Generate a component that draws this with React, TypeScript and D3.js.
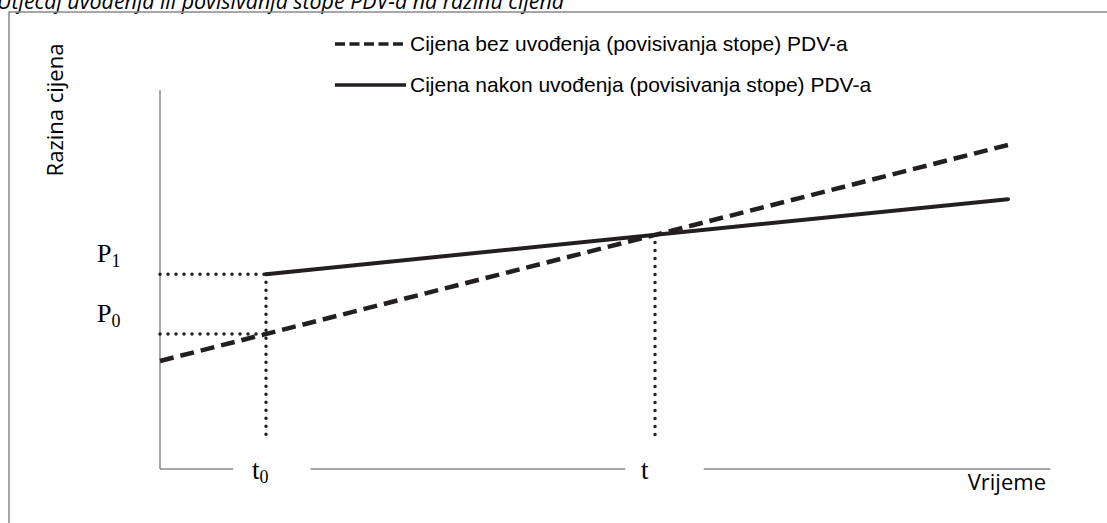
import React from 'react';
import * as d3 from 'd3';

// Price level over time (abstract units)
const priceWithoutVat = [
  { t: 0, p: 2.85 },
  { t: 8, p: 8.55 },
];
const priceWithVat = [
  { t: 1, p: 5.14 },
  { t: 8, p: 7.12 },
];
const priceLabels = [
  { name: 'P', sub: '1', p: 5.14 },
  { name: 'P', sub: '0', p: 3.56 },
];
const timeLabels = [
  { name: 't', sub: '0', t: 1, top: 5.14 },
  { name: 't', sub: '', t: 4.67, top: 6.19 },
];
// x axis is drawn in pieces, leaving room for the time labels
const axisPieces = [
  [0, 0.69],
  [1.42, 4.39],
  [5.13, 8.4],
];
const legendItems = [
  { label: 'Cijena bez uvođenja (povisivanja stope) PDV-a', dash: '10 4.5' },
  { label: 'Cijena nakon uvođenja (povisivanja stope) PDV-a', dash: null },
];

const W = 1107;
const H = 523;
const AXIS = '#8a8a8e';
const INK = '#231f20';

const App = () => {
  const x = d3.scaleLinear().domain([0, 8]).range([160, 1008]);
  const y = d3.scaleLinear().domain([0, 10]).range([469, 90]);
  const dropTo = 0.84; // bottom of the dotted guide lines

  const line = d3
    .line<{ t: number; p: number }>()
    .x((d) => x(d.t))
    .y((d) => y(d.p));

  const dotted = { stroke: INK, strokeWidth: 3.5, strokeDasharray: '0 8', strokeLinecap: 'round' as const };

  return (
    <div style={{ position: 'fixed', left: 0, top: 0 }}>
      <svg width={W} height={H} style={{ display: 'block', background: '#fff' }}>
        {/* title, cut off at the top */}
        <text x={-3} y={9} fontFamily="Open Sans" fontStyle="italic" fontSize={21.4} fill="#000">
          Utjecaj uvođenja ili povisivanja stope PDV-a na razinu cijena
        </text>
        {/* outer frame */}
        <rect x={9} y={12} width={W} height={H} fill="none" stroke={AXIS} strokeWidth={1.5} />

        {/* legend */}
        {legendItems.map((d, i) => (
          <g key={d.label} transform={`translate(335,${44 + i * 41})`}>
            <line
              x1={0}
              x2={71}
              y1={0}
              y2={0}
              stroke={INK}
              strokeWidth={3.5}
              strokeDasharray={d.dash ?? undefined}
            />
            <text x={75} y={7} fontFamily="Liberation Sans" fontSize={21} fill="#000">
              {d.label}
            </text>
          </g>
        ))}

        {/* axes */}
        <line x1={x(0)} x2={x(0)} y1={y(10)} y2={y(0)} stroke={AXIS} strokeWidth={1.5} />
        {axisPieces.map((d, i) => (
          <line key={i} x1={x(d[0])} x2={x(d[1])} y1={y(0)} y2={y(0)} stroke={AXIS} strokeWidth={1.5} />
        ))}
        <text
          transform={`translate(63,110) rotate(-90)`}
          textAnchor="middle"
          fontFamily="Open Sans"
          fontSize={22}
          fill="#000"
        >
          Razina cijena
        </text>
        <text x={1046} y={490} textAnchor="end" fontFamily="Open Sans" fontSize={22} fill="#000">
          Vrijeme
        </text>

        {/* dotted guides */}
        {priceLabels.map((d) => (
          <line key={d.sub} x1={x(0)} x2={x(timeLabels[0].t)} y1={y(d.p)} y2={y(d.p)} {...dotted} />
        ))}
        {timeLabels.map((d) => (
          <line key={d.t} x1={x(d.t)} x2={x(d.t)} y1={y(d.top)} y2={y(dropTo)} {...dotted} />
        ))}

        {/* price lines */}
        <path d={line(priceWithoutVat) ?? ''} fill="none" stroke={INK} strokeWidth={4.5} strokeDasharray="14 7" />
        <path d={line(priceWithVat) ?? ''} fill="none" stroke={INK} strokeWidth={4} strokeLinecap="round" />

        {/* labels */}
        {priceLabels.map((d) => (
          <text key={d.sub} x={97} y={y(d.p) - 12} fontFamily="Liberation Serif" fontSize={26} fill="#000">
            {d.name}
            <tspan fontSize={18} dy={5}>
              {d.sub}
            </tspan>
          </text>
        ))}
        {timeLabels.map((d) => (
          <text key={d.t} x={x(d.t) - 14} y={479} fontFamily="Liberation Serif" fontSize={27} fill="#000">
            {d.name}
            {d.sub && (
              <tspan fontSize={18} dy={4}>
                {d.sub}
              </tspan>
            )}
          </text>
        ))}
      </svg>
    </div>
  );
};

export default App;
